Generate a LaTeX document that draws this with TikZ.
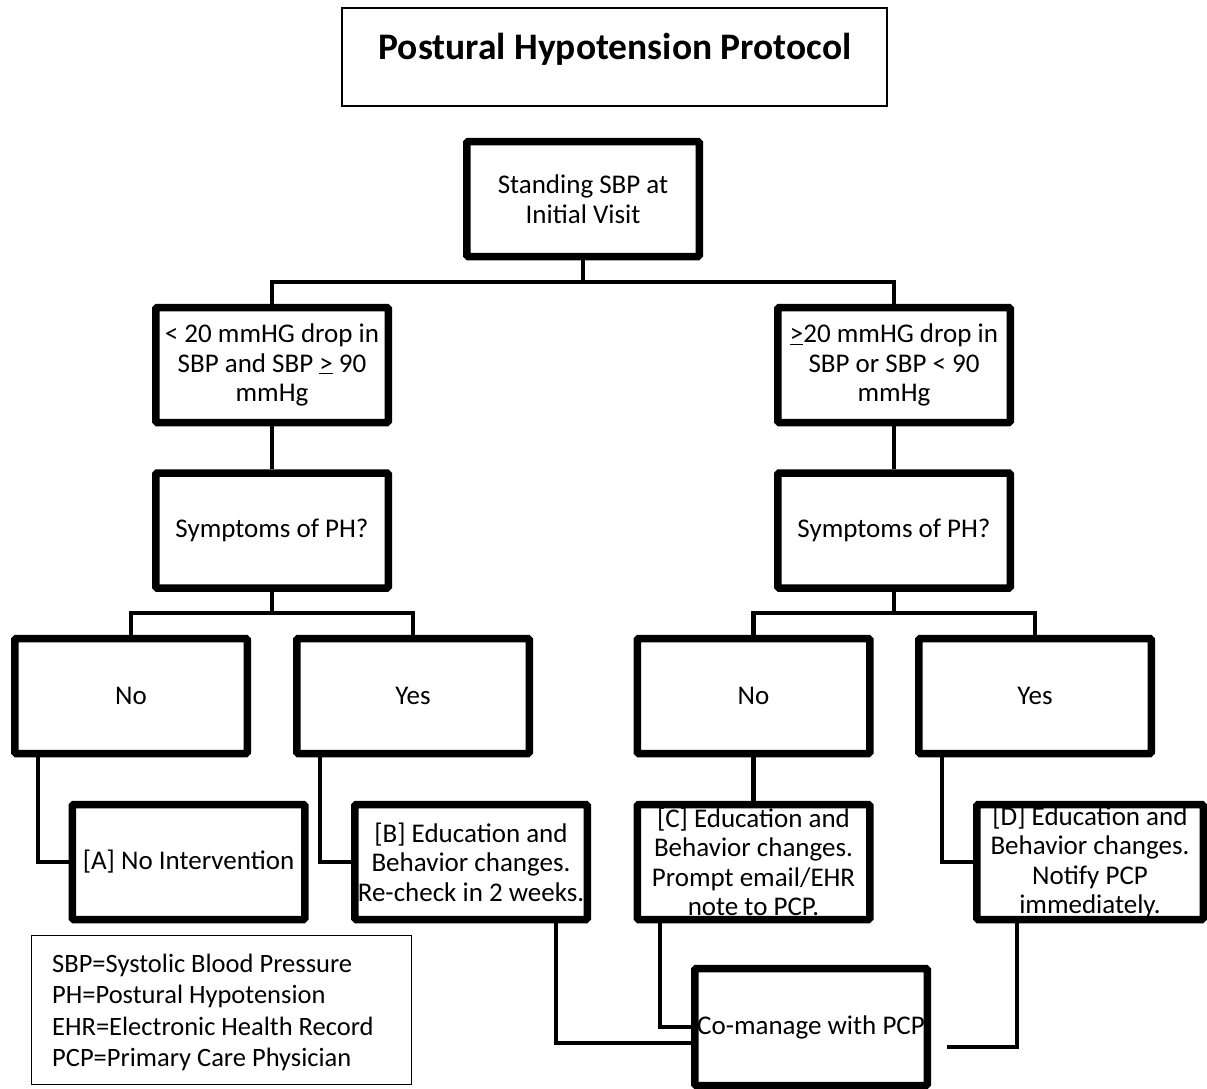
\documentclass[tikz,border=0pt]{standalone}
\usepackage{fontspec}
\setmainfont{Carlito}
\newcommand{\gebar}{\underline{>}}
\begin{document}
\begin{tikzpicture}[x=1pt,y=-1pt,
  pbox/.style={draw, line width=7.5pt, minimum width=232.5pt, minimum height=115pt,
    inner sep=0pt, rounded corners=1.5pt, align=center,
    font=\fontsize{27}{29.5}\selectfont},
  ptext/.style={align=center, inner sep=0pt, font=\fontsize{27}{29.5}\selectfont},
  conn/.style={line width=4.5pt}]
\useasboundingbox (0,0) rectangle (1207,1088);
\fill[white] (0,0) rectangle (1207,1088);

% title
\node[draw, line width=2pt, minimum width=545pt, minimum height=98pt] (title) at (614.5,57) {};
\node[inner sep=0pt, font=\fontsize{37.5}{40}\selectfont\bfseries] (titletext) at (615,49) {Postural Hypotension Protocol};

% boxes
\node[pbox] (st) at (583,199) {Standing SBP at\\Initial Visit};
\node[pbox] (l1) at (272,365) {< 20 mmHG drop in\\SBP and SBP \gebar{} 90\\mmHg};
\node[pbox] (r1) at (894,365) {\gebar20 mmHG drop in\\SBP or SBP < 90\\mmHg};
\node[pbox] (sl) at (272,530.5) {Symptoms of PH?};
\node[pbox] (sr) at (894,530.5) {Symptoms of PH?};
\node[pbox] (nol) at (131,696) {No};
\node[pbox] (yesl) at (413,696) {Yes};
\node[pbox] (nor) at (753.5,696) {No};
\node[pbox] (yesr) at (1035,696) {Yes};
\node[pbox] (a) at (188.5,862) {[A] No Intervention};
\node[pbox] (b) at (471,862) {[B] Education and\\Behavior changes.\\Re-check in 2 weeks.};
\node[pbox] (c) at (753.5,862) {};
\node[ptext] (ct) at (c) {[C] Education and\\Behavior changes.\\Prompt email/EHR\\note to PCP.};
\node[pbox, minimum width=226.5pt] (d) at (1090,862) {};
\node[ptext] (dt) at (d) {[D] Education and\\Behavior changes.\\Notify PCP\\immediately.};
\node[pbox, minimum height=117pt] (co) at (811,1027) {Co-manage with PCP};

% legend
\node[draw, line width=1.5pt, minimum width=380pt, minimum height=149pt] (leg) at (221.5,1010) {};
\node[inner sep=0pt, anchor=west, align=left, font=\fontsize{26.5}{31.5}\selectfont] (legt) at (52,1012.5)
  {SBP=Systolic Blood Pressure\\PH=Postural Hypotension\\EHR=Electronic Health Record\\PCP=Primary Care Physician};

% connectors
\coordinate (j1) at (583,282);
\coordinate (j2) at (272,613);
\coordinate (j3) at (894,613);
\draw[conn] (st.south) -- (j1);
\draw[conn] (l1.north) |- (j1) -| (r1.north);
\draw[conn] (l1.south) -- (sl.north);
\draw[conn] (r1.south) -- (sr.north);
\draw[conn] (sl.south) -- (j2);
\draw[conn] (nol.north) |- (j2) -| (yesl.north);
\draw[conn] (sr.south) -- (j3);
\draw[conn] (nor.north) |- (j3) -| (yesr.north);

\draw[conn] ([xshift=-93pt]nol.south) |- (a.west);
\draw[conn] ([xshift=-93pt]yesl.south) |- (b.west);
\draw[conn] (nor.south) -- (c.north);
\draw[conn] ([xshift=-93pt]yesr.south) |- (d.west);

\coordinate (dend) at ([xshift=16pt,yshift=-20pt]co.east);
\draw[conn] ([xshift=85pt]b.south) |- ([yshift=-16pt]co.west);
\draw[conn] ([xshift=-93.5pt]c.south) |- (co.west);
\draw[conn] ([xshift=-73pt]d.south) |- (dend);
\end{tikzpicture}
\end{document}
